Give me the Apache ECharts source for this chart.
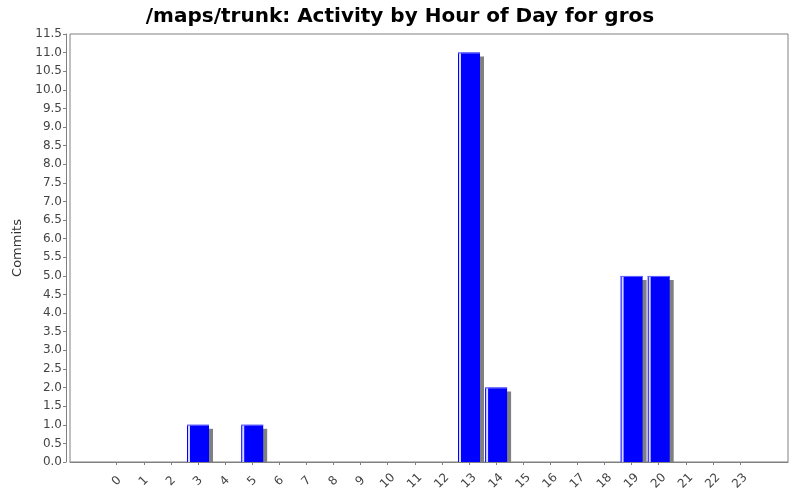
<!DOCTYPE html>
<html>
<head>
<meta charset="utf-8">
<title>Activity by Hour of Day</title>
<script src="https://cdn.jsdelivr.net/npm/echarts@6/dist/echarts.min.js"></script>
<style>
  html, body { margin: 0; padding: 0; background: #fff; }
  #chart { width: 800px; height: 500px; }
</style>
</head>
<body>
<div id="chart"></div>
<script>
var hours = ["0", "1", "2", "3", "4", "5", "6", "7", "8", "9", "10", "11",
             "12", "13", "14", "15", "16", "17", "18", "19", "20", "21", "22", "23"];
var commits = [0, 0, 0, 1, 0, 1, 0, 0, 0, 0, 0, 0,
               0, 11, 2, 0, 0, 0, 0, 5, 5, 0, 0, 0];
var yMin = 0;
var yMax = 11.5;
var yStep = 0.5;

var FONT = "DejaVu Sans";
var LABEL_COLOR = "#444444";
var LINE_COLOR = "#808080";
var BAR_WIDTH = 22;
var SHADOW = 4;

var chart = echarts.init(document.getElementById("chart"));

// bar with shadow and a light stripe on the left, java chart style
function renderBar(params, api) {
    var v = api.value(1);
    if (!v) {
        return null;
    }
    var top = api.coord([api.value(0), v]);
    var base = api.coord([api.value(0), 0]);
    var x = top[0] - BAR_WIDTH / 2;
    var h = base[1] - top[1];
    return {
        type: "group",
        children: [
            { type: "rect",
              shape: { x: x + SHADOW, y: top[1] + SHADOW, width: BAR_WIDTH, height: h - SHADOW },
              style: { fill: "#808080" } },
            { type: "rect",
              shape: { x: x, y: top[1], width: BAR_WIDTH, height: h },
              style: { fill: "#0000ff" } },
            { type: "rect",
              shape: { x: x + 1, y: top[1], width: 2, height: h },
              style: { fill: "#d8d8ff" } },
            { type: "rect",
              shape: { x: x, y: top[1], width: BAR_WIDTH, height: 1 },
              style: { fill: "#6666ff" } }
        ]
    };
}

var option = {
    animation: false,
    backgroundColor: "#ffffff",
    title: {
        text: "/maps/trunk: Activity by Hour of Day for gros",
        left: "center",
        top: 2,
        textStyle: { fontFamily: FONT, fontSize: 20, fontWeight: "bold", color: "#000000" }
    },
    grid: [
        // bars live here: category band is narrower than the frame
        { left: 103.15, right: 46.45, top: 34, bottom: 38 },
        // the frame drawn around the plot
        { left: 70, right: 12, top: 34, bottom: 38, show: true,
          borderColor: LINE_COLOR, borderWidth: 1, backgroundColor: "#ffffff", z: 0 }
    ],
    xAxis: [
        {
            gridIndex: 0,
            type: "category",
            data: hours,
            offset: 4,
            axisLine: { show: false },
            axisTick: { show: true, alignWithLabel: true, length: 3,
                        lineStyle: { color: LINE_COLOR } },
            axisLabel: { rotate: 45, margin: 15, interval: 0,
                         align: "center", verticalAlign: "middle",
                         fontFamily: FONT, fontSize: 12, color: LABEL_COLOR },
            splitLine: { show: false }
        },
        {
            gridIndex: 1,
            type: "value",
            min: 0,
            max: 1,
            offset: 4,
            axisLine: { show: true, lineStyle: { color: LINE_COLOR } },
            axisTick: { show: false },
            axisLabel: { show: false },
            splitLine: { show: false }
        }
    ],
    yAxis: [
        {
            gridIndex: 0,
            type: "value",
            min: yMin,
            max: yMax,
            interval: yStep,
            offset: 37.15,
            name: "Commits",
            nameLocation: "middle",
            nameGap: 36,
            nameTextStyle: { fontFamily: FONT, fontSize: 13, color: "#333333" },
            axisLine: { show: true, lineStyle: { color: LINE_COLOR } },
            axisTick: { show: true, length: 3, lineStyle: { color: LINE_COLOR } },
            axisLabel: { margin: 4, fontFamily: FONT, fontSize: 12, color: LABEL_COLOR,
                         formatter: function (v) { return v.toFixed(1); } },
            splitLine: { show: false }
        },
        {
            gridIndex: 1,
            type: "value",
            show: false
        }
    ],
    series: [
        {
            type: "custom",
            xAxisIndex: 0,
            yAxisIndex: 0,
            z: 3,
            renderItem: renderBar,
            encode: { x: 0, y: 1 },
            data: commits.map(function (c, i) { return [i, c]; })
        }
    ]
};

chart.setOption(option);
</script>
</body>
</html>
